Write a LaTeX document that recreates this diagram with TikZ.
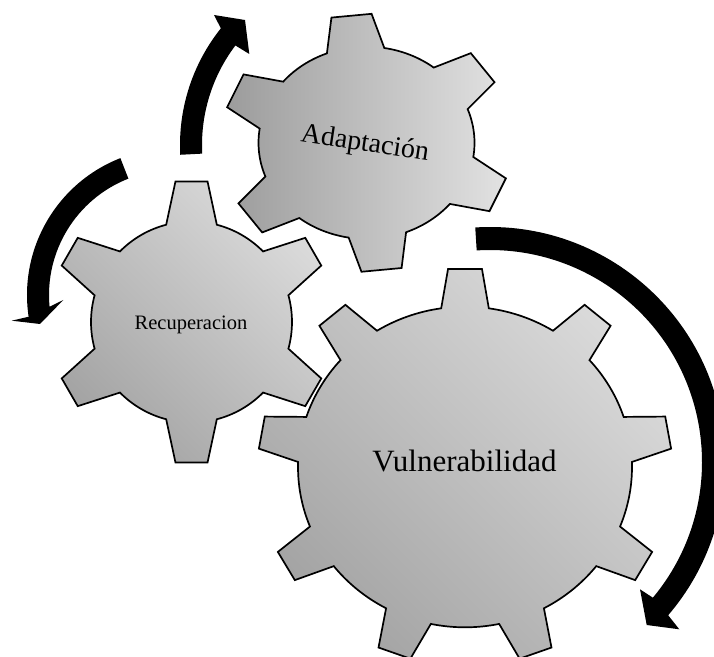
\documentclass[tikz,border=0pt]{standalone}
\usepackage{fontspec}
\setmainfont{Liberation Serif}
\definecolor{vlight}{HTML}{DADADA}
\definecolor{vdark}{HTML}{A4A4A4}
\definecolor{alight}{HTML}{E2E2E2}
\definecolor{adark}{HTML}{9C9C9C}
\tikzset{
  gearline/.style={draw=black, line width=1.7pt, line join=miter},
  arrowband/.style={fill=black},
  label/.style={text=black, inner sep=0pt}
}
% #1 options, #2 teeth, #3 root radius, #4 tip radius, #5 base half-angle, #6 tip half-angle, #7 first tooth angle
\newcommand\drawgear[7]{%
  \draw[#1] ({#7-#5}:#3)
    \foreach \k in {1,...,#2}{
      -- ({#7+(\k-1)*360/#2-#6}:#4)
      -- ({#7+(\k-1)*360/#2+#6}:#4)
      -- ({#7+(\k-1)*360/#2+#5}:#3)
      arc[start angle={#7+(\k-1)*360/#2+#5}, end angle={#7+\k*360/#2-#5}, radius=#3pt]
    } -- cycle;}
\begin{document}
\begin{tikzpicture}[x=1pt,y=1pt]
\useasboundingbox (0,0) rectangle (714,656);

% Vulnerabilidad gear
\begin{scope}[shift={(465,189)}, yscale=0.96]
  \drawgear{gearline, top color=vlight, bottom color=vdark, shading angle=-45}{9}{167}{207}{8.2}{4.7}{90}
\end{scope}

% Recuperacion gear
\begin{scope}[shift={(191.5,334)}]
  \drawgear{gearline, top color=vlight, bottom color=vdark, shading angle=-45}{6}{100.5}{141.5}{14.6}{6.5}{90}
\end{scope}

% Adaptacion gear
\begin{scope}[shift={(366.5,513.2)}, yscale=0.89]
  \drawgear{gearline, left color=adark, right color=alight}{6}{108}{145}{15.5}{8}{96}
\end{scope}

% right arrow
\begin{scope}[shift={(490,194)}]
  \fill[arrowband] (93.6:235) arc[start angle=93.6, end angle=-40.7, radius=235pt]
    -- (189.3,-167.3) -- (156.7,-163) -- (150,-127.3)
    -- (-39.8:212) arc[start angle=-39.8, end angle=93.6, radius=212pt] -- cycle;
\end{scope}

% left arrow
\begin{scope}[shift={(174,361)}]
  \fill[arrowband] (111.4:147) arc[start angle=111.4, end angle=188.5, radius=147pt]
    -- (-162.3,-25.7) -- (-134,-29) -- (-110.7,-5)
    -- (185.4:125) arc[start angle=185.4, end angle=111.4, radius=125pt] -- cycle;
\end{scope}

% top arrow
\begin{scope}[shift={(367,511)}]
  \fill[arrowband] (183:187) arc[start angle=183, end angle=141.4, radius=187pt]
    -- (-153,130) -- (-122,125) -- (-117.7,91)
    -- (142.9:165) arc[start angle=142.9, end angle=183, radius=165pt] -- cycle;
\end{scope}

\node[label, anchor=base, font=\fontsize{31}{31}\selectfont] (vul) at (464.5,185) {Vulnerabilidad};
\node[label, anchor=base, font=\fontsize{20.5}{20.5}\selectfont] (rec) at (191,326) {Recuperacion};
\node[label, anchor=base, rotate=-8.6, font=\fontsize{28}{28}\selectfont] (ada) at (364,505) {Adaptación};
\end{tikzpicture}
\end{document}
